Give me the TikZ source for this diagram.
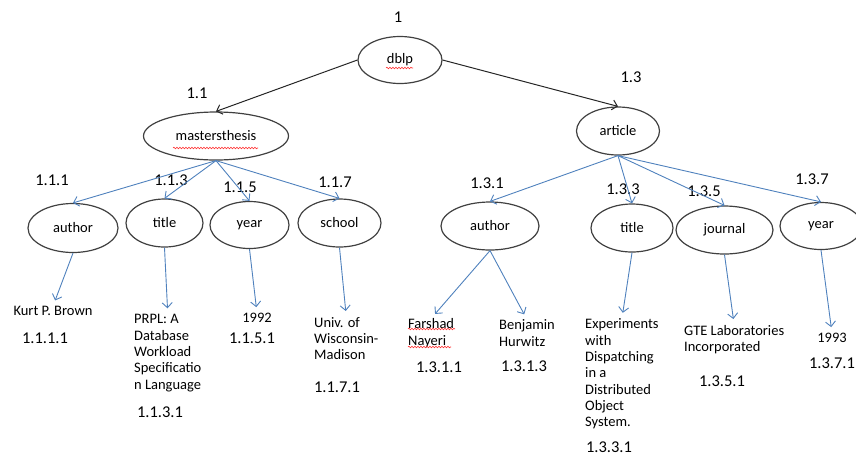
\documentclass[tikz,border=0pt]{standalone}
\usepackage{fontspec}
\setmainfont{Carlito}
\usepackage{tikz}
\usetikzlibrary{shapes}
\usetikzlibrary{arrows.meta}
\usetikzlibrary{decorations.pathmorphing}
\definecolor{linkblue}{RGB}{79,129,189}
\tikzstyle{elem}=[ellipse,draw=black!75,line width=1.2pt,inner sep=0pt,font=\fontsize{14.5}{16.3}\selectfont]
\tikzstyle{val}=[align=left,inner sep=0pt,font=\fontsize{14.5}{16.3}\selectfont]
\tikzstyle{num}=[inner sep=0pt,font=\fontsize{16.5}{18}\selectfont]
\tikzstyle{arrow}=[->,draw=black!85,line width=1pt]
\tikzstyle{link}=[->,draw=linkblue,line width=0.9pt]
\tikzstyle{leaf}=[link,shorten >=6pt]
\tikzstyle{spell}=[draw=red!80,line width=0.6pt,decorate,decoration={snake,amplitude=0.8pt,segment length=3pt}]
\tikzset{every picture/.style={
    >={Straight Barb[length=5pt,width=10pt]}
  }
}

\begin{document}
\begin{tikzpicture}[x=1pt,y=-1pt]
      \useasboundingbox (0,0) rectangle (856,456);
      \node[elem,minimum width=84pt,minimum height=47pt] at (400,60) (dblp) {dblp};
      \node[elem,minimum width=145pt,minimum height=48pt] at (216,136) (thesis) {mastersthesis};
      \node[elem,minimum width=83pt,minimum height=48pt] at (618,131) (article) {article};
      \node[elem,minimum width=90pt,minimum height=49pt] at (73,228) (author1) {author};
      \node[elem,minimum width=77pt,minimum height=48pt] at (164.5,223) (title1) {title};
      \node[elem,minimum width=79pt,minimum height=47pt] at (249.5,225) (year1) {year};
      \node[elem,minimum width=83pt,minimum height=48pt] at (339.5,223) (school1) {school};
      \node[elem,minimum width=98pt,minimum height=48pt] at (490,226) (author3) {author};
      \node[elem,minimum width=82pt,minimum height=48pt] at (632,228) (title3) {title};
      \node[elem,minimum width=97pt,minimum height=48pt] at (724.5,230) (journal3) {journal};
      \node[elem,minimum width=82pt,minimum height=47pt] at (821,226) (year3) {year};
      \node[val] at (53,311) (kurt) {Kurt P. Brown};
      \node[val,anchor=west] at (134,353) (prpl) {PRPL: A\\Database\\Workload\\Specificatio\\n Language};
      \node[val] at (257,318) (v1992) {1992};
      \node[val,anchor=west] at (314,338.5) (univ) {Univ. of\\Wisconsin-\\Madison};
      \node[val,anchor=west] at (408,333) (farshad) {Farshad\\Nayeri};
      \node[val,anchor=west] at (499,333) (benjamin) {Benjamin\\Hurwitz};
      \node[val,anchor=west] at (585,374) (expt) {Experiments\\with\\Dispatching\\in a\\Distributed\\Object\\System.};
      \node[val,anchor=west] at (684,339.5) (gte) {GTE Laboratories\\Incorporated};
      \node[val] at (832,338) (v1993) {1993};
      \node[num] at (398,17) (n1) {1};
      \node[num] at (197,93) (n11) {1.1};
      \node[num] at (631,77) (n13) {1.3};
      \node[num] at (52,180) (n111) {1.1.1};
      \node[num] at (171,180) (n113) {1.1.3};
      \node[num] at (240,187) (n115) {1.1.5};
      \node[num] at (335,182) (n117) {1.1.7};
      \node[num] at (487,183) (n131) {1.3.1};
      \node[num] at (623,189) (n133) {1.3.3};
      \node[num] at (704,191) (n135) {1.3.5};
      \node[num] at (812,179) (n137) {1.3.7};
      \node[num] at (45,338) (n1111) {1.1.1.1};
      \node[num] at (160,412) (n1131) {1.1.3.1};
      \node[num] at (252,338) (n1151) {1.1.5.1};
      \node[num] at (337,387) (n1171) {1.1.7.1};
      \node[num] at (439,367) (n1311) {1.3.1.1};
      \node[num] at (524,366) (n1313) {1.3.1.3};
      \node[num] at (609,447) (n1331) {1.3.3.1};
      \node[num] at (722,381) (n1351) {1.3.5.1};
      \node[num] at (832,363) (n1371) {1.3.7.1};
      \draw[arrow] (dblp.west)--(thesis.north);
      \draw[arrow] (dblp.east)--(article.north);
      \draw[link] (thesis.south)--(author1.north);
      \draw[link] (thesis.south)--(title1.north);
      \draw[link] (thesis.south)--(year1.north);
      \draw[link] (thesis.south)--(school1.north);
      \draw[link] (article.south)--(author3.north);
      \draw[link] (article.south)--(title3.north);
      \draw[link] (article.south)--(journal3.north);
      \draw[link] (article.south)--(year3.north);
      \draw[leaf] (author1.south)--(kurt.north);
      \draw[leaf] (title1.south)--(prpl.north);
      \draw[leaf] (year1.south)--(v1992.north);
      \draw[leaf] (school1.south)--(univ.north);
      \draw[leaf] (author3.south)--(farshad.north);
      \draw[leaf] (author3.south)--(benjamin.north);
      \draw[leaf] (title3.south)--(expt.north);
      \draw[leaf] (journal3.south)--(gte.north);
      \draw[leaf] (year3.south)--(v1993.north);
      \draw[spell] (386,68)--(413,68);
      \draw[spell] (173,148)--(258,148);
      \draw[spell] (408,329)--(455,329);
      \draw[spell] (408,347)--(451,347);
    \end{tikzpicture}
\end{document}
